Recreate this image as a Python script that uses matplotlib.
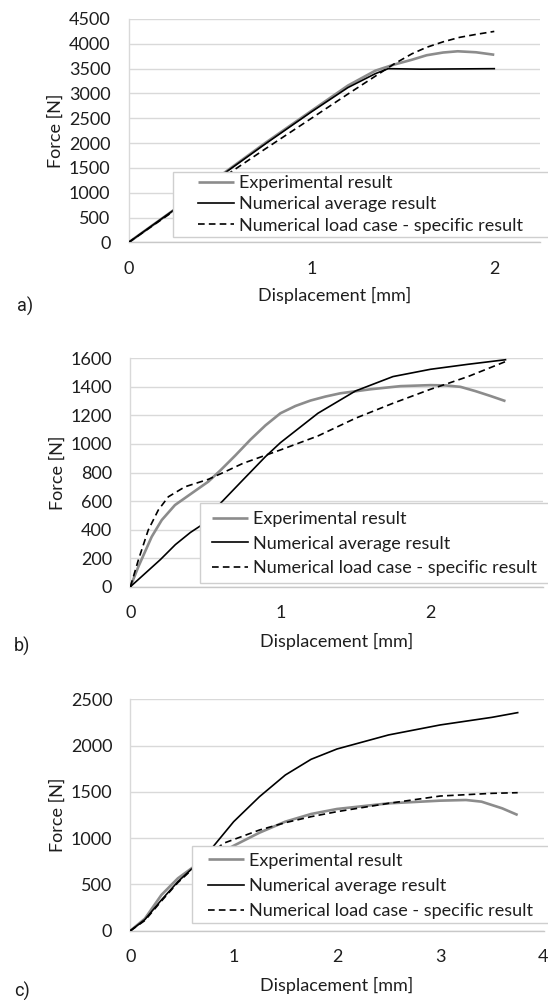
import matplotlib
matplotlib.use('Agg')
import matplotlib.pyplot as plt
from matplotlib.patches import Rectangle

plt.rcParams['font.family'] = ['Lato', 'DejaVu Sans']

# ---------------- data ----------------
labels = ["Experimental result", "Numerical average result",
          "Numerical load case - specific result"]

# panel a
a_exp_x = [0, 0.25, 0.5, 0.75, 1.0, 1.2, 1.35, 1.45, 1.55, 1.63, 1.72, 1.8, 1.9, 2.0]
a_exp_y = [0, 660, 1340, 2010, 2650, 3160, 3460, 3580, 3680, 3770, 3825, 3850, 3830, 3780]
a_avg_x = [0, 0.25, 0.5, 0.75, 1.0, 1.2, 1.35, 1.42, 1.6, 1.8, 2.0]
a_avg_y = [0, 660, 1330, 1990, 2630, 3120, 3400, 3500, 3490, 3495, 3500]
a_spc_x = [0, 0.25, 0.5, 0.75, 1.0, 1.2, 1.35, 1.45, 1.55, 1.63, 1.72, 1.81, 1.9, 2.0]
a_spc_y = [0, 640, 1270, 1890, 2500, 2990, 3350, 3590, 3800, 3930, 4040, 4130, 4190, 4250]

# panel b
b_exp_x = [0, 0.053, 0.142, 0.209, 0.297, 0.408, 0.519, 0.6, 0.7, 0.8, 0.9, 1.0, 1.1, 1.2,
           1.3, 1.4, 1.6, 1.8, 2.0, 2.1, 2.2, 2.3, 2.4, 2.5]
b_exp_y = [0, 140, 350, 467, 572, 654, 736, 815, 920, 1030, 1130, 1215, 1266, 1304,
           1332, 1355, 1383, 1405, 1412, 1410, 1400, 1370, 1336, 1300]
b_avg_x = [0, 0.1, 0.2, 0.3, 0.4, 0.475, 0.6, 0.75, 0.9, 1.0, 1.25, 1.5, 1.75, 2.0, 2.25, 2.5]
b_avg_y = [0, 95, 190, 295, 380, 432, 584, 748, 911, 1009, 1215, 1371, 1472, 1523, 1558, 1590]
b_spc_x = [0, 0.053, 0.119, 0.186, 0.253, 0.364, 0.519, 0.63, 0.75, 1.0, 1.25, 1.5, 1.75,
           2.0, 2.1, 2.25, 2.5]
b_spc_y = [0, 187, 397, 537, 630, 700, 752, 805, 864, 958, 1056, 1180, 1285,
           1383, 1418, 1472, 1577]

# panel c
c_exp_x = [0, 0.14, 0.3, 0.46, 0.6, 0.8, 1.0, 1.25, 1.5, 1.75, 2.0, 2.5, 3.0, 3.25, 3.4,
           3.6, 3.75]
c_exp_y = [0, 130, 386, 566, 680, 800, 918, 1059, 1178, 1261, 1315, 1376, 1405, 1412, 1394,
           1322, 1250]
c_avg_x = [0, 0.14, 0.3, 0.46, 0.6, 0.8, 1.0, 1.25, 1.5, 1.75, 2.0, 2.5, 3.0, 3.5, 3.75]
c_avg_y = [0, 120, 332, 530, 674, 907, 1178, 1448, 1682, 1852, 1963, 2115, 2223, 2305, 2356]
c_spc_x = [0, 0.14, 0.3, 0.46, 0.6, 0.9, 1.0, 1.25, 1.5, 1.75, 2.0, 2.5, 3.0, 3.5, 3.75]
c_spc_y = [0, 110, 320, 520, 665, 944, 985, 1088, 1167, 1232, 1286, 1376, 1455, 1484, 1491]

panels = [
    dict(tag="a)", xs=(a_exp_x, a_avg_x, a_spc_x), ys=(a_exp_y, a_avg_y, a_spc_y),
         xlim=2.25, ylim=4500, ystep=500, xticks=[0, 1, 2]),
    dict(tag="b)", xs=(b_exp_x, b_avg_x, b_spc_x), ys=(b_exp_y, b_avg_y, b_spc_y),
         xlim=2.75, ylim=1600, ystep=200, xticks=[0, 1, 2]),
    dict(tag="c)", xs=(c_exp_x, c_avg_x, c_spc_x), ys=(c_exp_y, c_avg_y, c_spc_y),
         xlim=4.0, ylim=2500, ystep=500, xticks=[0, 1, 2, 3, 4]),
]

# ---------------- layout (pixels) ----------------
W, H = 548, 1000
boxes = [(128.5, 19.0, 540.0, 242.5), (130.4, 358.3, 543.0, 586.7), (130.4, 699.3, 543.5, 930.7)]
leg_frames = [(173.4, 171.7, 552, 236.7), (200.0, 503.3, 552, 583.3), (191.5, 845.7, 552, 923.3)]
leg_anchor = [(197.5, 204.3), (211.8, 543.6), (208.0, 886.0)]
leg_spacing = [0.3, 0.47, 0.52]
xlab_y = [295, 641.7, 985]
ylab_x = [56, 57.7, 57.7]
tag_pos = [(17.5, 306.7), (14, 646.7), (14, 991.7)]

TXT = '#1e1e1e'
GREY = '#8c8c8c'
FS = 13

fig = plt.figure(figsize=(W / 100, H / 100), dpi=100)

for i, p in enumerate(panels):
    l, t, r, b = boxes[i]
    ax = fig.add_axes([l / W, 1 - b / H, (r - l) / W, (b - t) / H])
    ex, av, sp = p['xs']
    ey, ay, sy = p['ys']
    h1, = ax.plot(ex, ey, color=GREY, lw=1.9, solid_capstyle='butt', label=labels[0], zorder=3)
    h2, = ax.plot(av, ay, color='black', lw=1.2, label=labels[1], zorder=4)
    h3, = ax.plot(sp, sy, color='black', lw=1.2, linestyle=(0, (4.0, 2.5)), label=labels[2], zorder=5)
    ax.set_xlim(0, p['xlim'])
    ax.set_ylim(0, p['ylim'])
    ax.set_xticks(p['xticks'])
    ax.set_yticks(list(range(0, p['ylim'] + 1, p['ystep'])))
    ax.yaxis.grid(True, color='#d9d9d9', lw=1.0)
    ax.set_axisbelow(True)
    for s in ('top', 'right'):
        ax.spines[s].set_visible(False)
    ax.spines['left'].set_color('#d9d9d9')
    ax.spines['bottom'].set_color('#c8c8c8')
    ax.spines['left'].set_linewidth(1.0)
    ax.spines['bottom'].set_linewidth(1.0)
    ax.tick_params(axis='both', length=0, labelsize=FS, labelcolor=TXT)
    ax.tick_params(axis='y', pad=13)
    ax.tick_params(axis='x', pad=13)
    ax.set_xlabel("Displacement [mm]", fontsize=FS, color=TXT)
    ax.set_ylabel("Force [N]", fontsize=FS, color=TXT)
    ax.xaxis.label.set_va('center')
    ax.yaxis.label.set_va('center')
    ax.xaxis.set_label_coords(0.5, (b - xlab_y[i]) / (b - t))
    ax.yaxis.set_label_coords((ylab_x[i] - l) / (r - l), 0.5)

    # legend frame and legend
    fx0, fy0, fx1, fy1 = leg_frames[i]
    rect = Rectangle((fx0 / W, 1 - fy1 / H), (fx1 - fx0) / W, (fy1 - fy0) / H,
                     transform=fig.transFigure, facecolor='white', edgecolor='#cfcfcf',
                     lw=1.0, zorder=1)
    fig.add_artist(rect)
    hx, hy = leg_anchor[i]
    fig.legend(handles=[h1, h2, h3], loc='center left',
               bbox_to_anchor=(hx / W, 1 - hy / H), bbox_transform=fig.transFigure,
               frameon=False, borderpad=0, borderaxespad=0, handlelength=2.0,
               handletextpad=0.28, labelspacing=leg_spacing[i], fontsize=FS,
               labelcolor=TXT)

    tx, ty = tag_pos[i]
    fig.text(tx / W, 1 - ty / H, p['tag'], family='Roboto', fontsize=13,
             color=TXT, ha='left', va='center')

fig.savefig('out.png', dpi=100)
